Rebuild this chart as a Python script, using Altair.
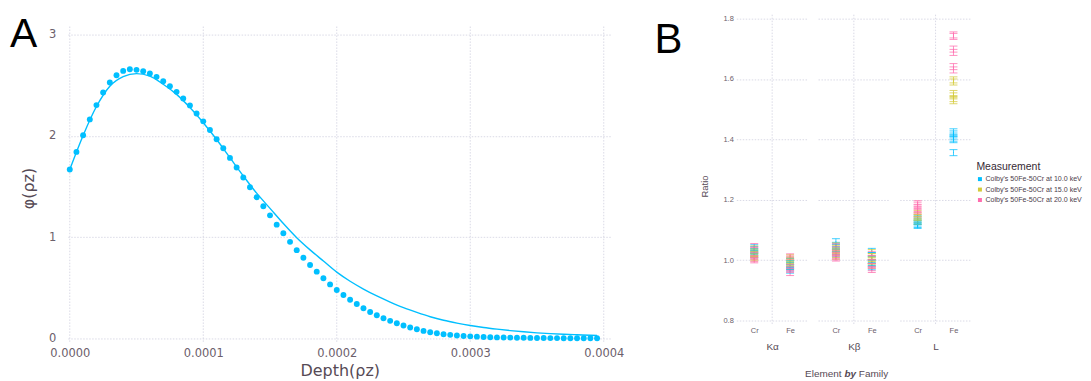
import altair as alt
import pandas as pd

# ---------------- Panel A data ----------------
DEPTH_PTS_E6 = [0, 5, 10, 15, 20, 25, 30, 35, 40, 45,
                50, 55, 60, 65, 70, 75, 80, 85, 90, 95,
                100, 105, 110, 115, 120, 125, 130, 135, 140, 145,
                150, 155, 160, 165, 170, 175, 180, 185, 190, 195,
                200, 205, 210, 215, 220, 225, 230, 235, 240, 245,
                250, 255, 260, 265, 270, 275, 280, 285, 290, 295,
                300, 305, 310, 315, 320, 325, 330, 335, 340, 345,
                350, 355, 360, 365, 370, 375, 380, 385, 390, 395]
PHI_PTS = [1.669, 1.842, 2.006, 2.163, 2.304, 2.429, 2.527, 2.599, 2.642, 2.658,
           2.652, 2.638, 2.616, 2.583, 2.540, 2.491, 2.435, 2.370, 2.301, 2.222,
           2.144, 2.058, 1.967, 1.878, 1.783, 1.688, 1.590, 1.493, 1.395, 1.305,
           1.216, 1.124, 1.039, 0.954, 0.872, 0.797, 0.726, 0.660, 0.595, 0.534,
           0.479, 0.430, 0.383, 0.341, 0.298, 0.262, 0.229, 0.200, 0.174, 0.151,
           0.128, 0.108, 0.092, 0.075, 0.062, 0.052, 0.042, 0.036, 0.030, 0.025,
           0.021, 0.018, 0.015, 0.013, 0.011, 0.010, 0.009, 0.008, 0.007, 0.006,
           0.005, 0.005, 0.004, 0.004, 0.003, 0.003, 0.003, 0.002, 0.002, 0.002]
DEPTH_FIT_E6 = [0, 10, 20, 30, 40, 50, 60, 70, 80, 90,
                100, 110, 120, 130, 140, 150, 160, 170, 180, 190,
                200, 210, 220, 230, 240, 250, 260, 270, 280, 290,
                300, 310, 320, 330, 340, 350, 360, 370, 380, 390, 395]
PHI_FIT = [1.669, 2.005, 2.29, 2.49, 2.585, 2.615, 2.59, 2.51, 2.41, 2.28,
           2.13, 1.965, 1.785, 1.605, 1.435, 1.285, 1.135, 0.995, 0.875, 0.765,
           0.655, 0.565, 0.488, 0.42, 0.36, 0.305, 0.258, 0.215, 0.18, 0.152,
           0.128, 0.108, 0.092, 0.078, 0.066, 0.056, 0.048, 0.042, 0.037, 0.032, 0.030]
X_TICKS = [0.0, 0.0001, 0.0002, 0.0003, 0.0004]
Y_TICKS = [0, 1, 2, 3]

# ---------------- Panel B data ----------------
FAMILIES = ["Kα", "Kβ", "L"]
ELEMENTS = ["Cr", "Fe"]
MEASUREMENTS = ["Colby's 50Fe-50Cr at 10.0 keV",
                "Colby's 50Fe-50Cr at 15.0 keV",
                "Colby's 50Fe-50Cr at 20.0 keV"]
COLORS = ["#00BFFF", "#D4CA3A", "#FF6DAE"]
B_TICKS = [0.8, 1.0, 1.2, 1.4, 1.6, 1.8]

KA_CR_10 = [1.044, 1.038, 1.031, 1.026, 1.020, 1.015]
KA_CR_15 = [1.040, 1.030, 1.022, 1.016, 1.010, 1.005]
KA_CR_20 = [1.048, 1.036, 1.018, 1.008, 1.002, 0.998]
KA_FE_10 = [1.000, 0.992, 0.985, 0.978, 0.970, 0.963]
KA_FE_15 = [1.012, 1.005, 0.998, 0.990, 0.983, 0.975]
KA_FE_20 = [1.015, 1.008, 0.980, 0.972, 0.966, 0.955]
KB_CR_10 = [1.062, 1.050, 1.044, 1.036, 1.028, 1.020]
KB_CR_15 = [1.048, 1.040, 1.032, 1.025, 1.018, 1.012]
KB_CR_20 = [1.045, 1.035, 1.022, 1.015, 1.010, 1.006]
KB_FE_10 = [1.032, 1.018, 1.006, 0.995, 0.985, 0.975]
KB_FE_15 = [1.028, 1.015, 1.004, 0.996, 0.988, 0.980]
KB_FE_20 = [1.022, 1.008, 0.995, 0.982, 0.972, 0.966]
L_CR_10 = [1.140, 1.132, 1.125, 1.120, 1.115, 1.112]
L_CR_15 = [1.158, 1.150, 1.143, 1.137, 1.130, 1.125]
L_CR_20 = [1.190, 1.185, 1.178, 1.168, 1.160, 1.150]
L_FE_10 = [1.425, 1.418, 1.411, 1.404, 1.399, 1.356]
L_FE_15 = [1.597, 1.590, 1.552, 1.544, 1.535, 1.528]
L_FE_20 = [1.746, 1.741, 1.699, 1.688, 1.641, 1.630]
ERR_KA = [0.007, 0.006]
ERR_KB = [0.009, 0.007]
ERR_L = [0.007, 0.010]

GROUPS = [
    ("Kα", "Cr", [KA_CR_10, KA_CR_15, KA_CR_20], ERR_KA[0]),
    ("Kα", "Fe", [KA_FE_10, KA_FE_15, KA_FE_20], ERR_KA[1]),
    ("Kβ", "Cr", [KB_CR_10, KB_CR_15, KB_CR_20], ERR_KB[0]),
    ("Kβ", "Fe", [KB_FE_10, KB_FE_15, KB_FE_20], ERR_KB[1]),
    ("L", "Cr", [L_CR_10, L_CR_15, L_CR_20], ERR_L[0]),
    ("L", "Fe", [L_FE_10, L_FE_15, L_FE_20], ERR_L[1]),
]
rows = []
for fam, el, series, err in GROUPS:
    for meas, vals in zip(MEASUREMENTS, series):
        for v in vals:
            rows.append({"family": fam, "element": el, "meas": meas,
                         "ratio": v, "lo": v - err, "hi": v + err})
dfB = pd.DataFrame(rows)

# ---------------- styles ----------------
GRID = "#D0D0E0"
DASH = [1.5, 1.5]
GW = 0.8
MINOR = "#6c606b"
MAJOR = "#564a55"
BLUE = "#00BFFF"

# ---------------- Panel A ----------------
pts = pd.DataFrame({"depth": [d * 1e-6 for d in DEPTH_PTS_E6], "phi": PHI_PTS})
fit = pd.DataFrame({"depth": [d * 1e-6 for d in DEPTH_FIT_E6], "phi": PHI_FIT})
xgrid = pd.DataFrame({"depth": X_TICKS})

xscaleA = alt.Scale(domain=[-1.5e-6, 4.06e-4], nice=False, zero=False)
yscaleA = alt.Scale(domain=[-0.039, 3.197], nice=False, zero=False)
xaxisA = alt.Axis(values=X_TICKS, format=".4f", grid=False, ticks=False, tickSize=0, domain=False,
                  labelFlush=False, labelOverlap=False, labelFont="DejaVu Sans", labelFontSize=11.5,
                  labelColor=MINOR, labelPadding=5, title="Depth(ρz)", titleFont="DejaVu Sans",
                  titleFontSize=16, titleFontWeight="normal", titleColor=MAJOR, titlePadding=4)
yaxisA = alt.Axis(values=Y_TICKS, grid=True, gridColor=GRID, gridDash=DASH, gridWidth=GW,
                  ticks=False, tickSize=0, domain=False, labelFlush=False,
                  labelFont="DejaVu Sans", labelFontSize=11.5, labelColor=MINOR, labelPadding=12,
                  title="φ(ρz)", titleFont="DejaVu Sans", titleFontSize=16, titleFontWeight="normal",
                  titleColor=MAJOR, titlePadding=12, titleY=174)

gridA = alt.Chart(xgrid).mark_rule(color=GRID, strokeDash=DASH, strokeWidth=GW).encode(
    x=alt.X("depth:Q", scale=xscaleA, axis=xaxisA),
    y=alt.datum(3.08, scale=yscaleA, axis=yaxisA),
    y2=alt.datum(-0.039),
)
pointsA = alt.Chart(pts).mark_circle(size=35, color=BLUE, opacity=1).encode(
    x=alt.X("depth:Q", scale=xscaleA, axis=xaxisA),
    y=alt.Y("phi:Q", scale=yscaleA, axis=yaxisA),
)
lineA = alt.Chart(fit).mark_line(color=BLUE, strokeWidth=1.4, interpolate="monotone").encode(
    x=alt.X("depth:Q", scale=xscaleA, axis=xaxisA),
    y=alt.Y("phi:Q", scale=yscaleA, axis=yaxisA),
)
labelA = alt.Chart(pd.DataFrame({"t": ["A"]})).mark_text(
    align="left", baseline="alphabetic", fontSize=41, font="Liberation Sans", color="black"
).encode(text="t:N", x=alt.value(-58), y=alt.value(32.7))

chartA = alt.layer(gridA, pointsA, lineA, labelA).properties(width=546, height=329)

# spacer between panels
spacer = alt.Chart(pd.DataFrame({"v": [0]})).mark_point(opacity=0).encode(
    x=alt.X("v:Q", axis=None), y=alt.Y("v:Q", axis=None)
).properties(width=105, height=10)

# ---------------- Panel B ----------------
yscaleB = alt.Scale(domain=[0.7835, 1.813], nice=False, zero=False)
xscaleB = alt.Scale(type="point", padding=0.5)
colorScale = alt.Scale(domain=MEASUREMENTS, range=COLORS)
legendB = alt.Legend(title="Measurement", orient="none", legendX=77, legendY=148,
                     symbolType="square", symbolSize=16, symbolOpacity=1, symbolStrokeWidth=0,
                     labelFont="Liberation Sans", labelFontSize=7.1, labelColor="#4c404b",
                     labelOffset=2, titleFont="Liberation Sans", titleFontSize=10.5,
                     titleFontWeight="normal", titleColor="#362a35", titlePadding=3,
                     rowPadding=2.5, padding=0)


def panel(fam, first, last):
    d = dfB[dfB["family"] == fam]
    xaxis = alt.Axis(title=fam, labelAngle=0, ticks=False, tickSize=0, domain=False, grid=False,
                     labelFont="Liberation Sans", labelFontSize=7.5, labelColor=MINOR, labelPadding=1,
                     titleFont="Liberation Sans", titleFontSize=10, titleFontWeight="normal",
                     titleColor=MAJOR, titlePadding=8)
    if first:
        yaxis = alt.Axis(values=B_TICKS, format=".1f", grid=True, gridColor=GRID, gridDash=DASH,
                         gridWidth=GW, ticks=False, tickSize=0, domain=False, labelFont="Liberation Sans",
                         labelFontSize=7.5, labelColor=MINOR, labelPadding=3, title="Ratio",
                         titleFont="Liberation Sans", titleFontSize=9.5, titleFontWeight="normal",
                         titleColor=MAJOR, titlePadding=13, titleY=172)
    else:
        yaxis = alt.Axis(values=B_TICKS, grid=True, gridColor=GRID, gridDash=DASH, gridWidth=GW,
                         ticks=False, tickSize=0, domain=False, labels=False, title=None)
    leg = legendB if last else None
    X = alt.X("element:N", sort=ELEMENTS, scale=xscaleB, axis=xaxis)
    C = alt.Color("meas:N", scale=colorScale, legend=leg)
    base = alt.Chart(d)
    vgrid = alt.Chart(pd.DataFrame({"v": [0]})).mark_rule(
        color=GRID, strokeDash=DASH, strokeWidth=GW
    ).encode(x=alt.value(36), y=alt.value(0), y2=alt.value(312))
    sq = base.mark_square(size=0.5, opacity=1).encode(
        x=X, y=alt.Y("ratio:Q", scale=yscaleB, axis=yaxis), color=C)
    bars = base.mark_rule(strokeWidth=1, opacity=0.75).encode(
        x=X, y=alt.Y("lo:Q", scale=yscaleB, axis=yaxis), y2="hi:Q", color=C)
    cap_lo = base.mark_tick(orient="horizontal", size=8, thickness=1, opacity=0.75).encode(
        x=X, y=alt.Y("lo:Q", scale=yscaleB, axis=yaxis), color=C)
    cap_hi = base.mark_tick(orient="horizontal", size=8, thickness=1, opacity=0.75).encode(
        x=X, y=alt.Y("hi:Q", scale=yscaleB, axis=yaxis), color=C)
    layers = [vgrid, sq, bars, cap_lo, cap_hi]
    if first:
        layers.append(alt.Chart(pd.DataFrame({"t": ["B"]})).mark_text(
            align="left", baseline="alphabetic", fontSize=42, font="Liberation Sans", color="black"
        ).encode(text="t:N", x=alt.value(-82), y=alt.value(38.4)))
    if fam == "Kβ":
        common = dict(baseline="middle", fontSize=10, font="Liberation Sans", color=MAJOR)
        layers.append(alt.Chart(pd.DataFrame({"t": ["Element"]})).mark_text(
            align="right", **common).encode(text="t:N", x=alt.value(23.7), y=alt.value(360.7)))
        layers.append(alt.Chart(pd.DataFrame({"t": ["by"]})).mark_text(
            align="center", fontStyle="italic", fontWeight="bold", **common
        ).encode(text="t:N", x=alt.value(32.35), y=alt.value(360.7)))
        layers.append(alt.Chart(pd.DataFrame({"t": ["Family"]})).mark_text(
            align="left", **common).encode(text="t:N", x=alt.value(41), y=alt.value(360.7)))
    return alt.layer(*layers).properties(width=72, height=312)


B1 = panel("Kα", True, False)
B2 = panel("Kβ", False, False)
B3 = panel("L", False, True)

chart = alt.hconcat(chartA, spacer, B1, B2, B3, spacing=10, bounds="flush").resolve_scale(
    x="independent", y="independent", color="independent"
).resolve_legend(color="independent").properties(
    padding={"left": 1, "top": 5, "right": 0, "bottom": 0}
).configure_view(stroke="transparent")

chart.save("out.html", embed_options={"renderer": "svg", "actions": False})
